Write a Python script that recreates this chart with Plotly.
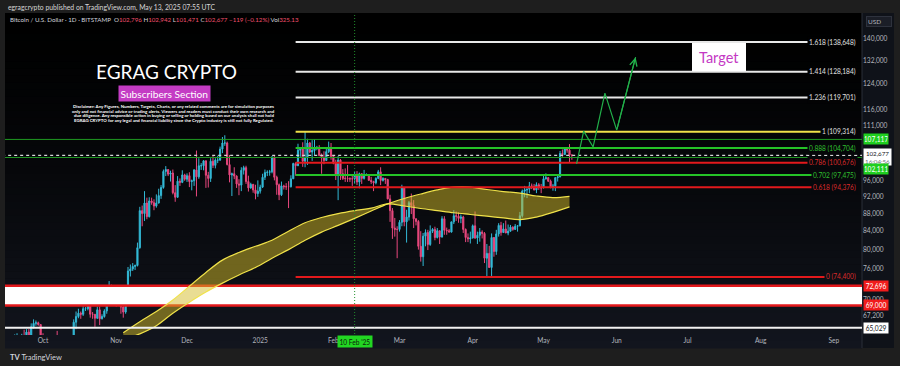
import math
import pandas as pd
import plotly.graph_objects as go

# ---------------- DATA ----------------
# BTC/USD daily candles (Bitstamp), values in thousands of USD, from 2024-09-15 to 2025-05-13
candle_first_day = "2024-09-15"
opens_k = [
    60.5, 59.2, 58.2, 60.3, 61.8, 62.9, 63.2, 63.4, 63.6, 63.3, 64.3, 63.2, 65.2, 65.8, 65.9, 65.6,
    63.3, 60.8, 60.6, 60.7, 62.1, 62.1, 62.8, 62.2, 62.1, 60.6, 60.3, 62.4, 63.2, 62.8, 66.0, 67.0,
    67.6, 67.4, 68.4, 68.4, 69.0, 67.4, 67.4, 66.7, 68.2, 66.6, 67.0, 68.0, 69.9, 72.7, 72.3,
    70.2, 69.5, 69.3, 68.7, 67.8, 69.4, 75.6, 76.0, 76.5, 76.7, 80.4, 88.7, 88.0, 90.5, 87.3,
    91.0, 90.6, 89.8, 90.5, 92.3, 94.3, 98.4, 98.9, 97.7, 98.0, 93.0, 91.9, 95.9, 95.6, 97.5,
    96.4, 97.3, 95.8, 96.0, 98.8, 97.0, 99.9, 99.9, 101.2, 97.4, 96.6, 101.1, 100.0, 101.4, 101.4,
    104.4, 106.1, 106.1, 100.2, 97.5, 97.8, 97.2, 95.2, 94.9, 98.7, 99.4, 95.8, 94.2, 95.1, 93.7, 92.8,
    93.4, 94.4, 96.9, 98.1, 98.2, 98.3, 102.2, 96.9, 95.0, 92.5, 94.7, 94.5, 94.5, 94.5, 96.5,
    100.5, 99.9, 104.1, 104.4, 101.1, 102.0, 106.1, 103.6, 104.0, 104.7, 104.7, 102.6, 102.0, 101.3, 103.7, 104.7,
    102.4, 100.6, 97.7, 101.4, 97.8, 96.6, 96.6, 96.5, 96.5, 96.5, 97.4, 95.7, 97.8, 96.6,
    97.5, 97.6, 96.1, 95.8, 95.5, 96.6, 98.3, 96.1, 96.6, 96.3, 91.5, 88.7, 84.7, 84.4,
    84.4, 86.0, 94.3, 86.1, 87.2, 90.6, 89.9, 86.8, 86.2, 80.7, 78.5, 82.9, 83.7, 81.1, 84.0, 84.4,
    82.6, 84.1, 82.7, 86.8, 84.2, 84.1, 83.8, 86.1, 87.5, 87.4, 86.9, 87.2, 84.4, 82.6, 82.3,
    82.5, 85.2, 82.5, 83.1, 83.8, 83.5, 78.2, 79.2, 76.3, 82.6, 79.6, 83.4, 85.3, 83.7, 84.5,
    83.6, 84.0, 84.9, 84.4, 85.1, 85.2, 87.5, 93.4, 93.7, 93.9, 94.7, 94.6, 93.7, 95.0, 94.3,
    94.2, 96.5, 96.8, 95.9, 94.3, 94.7, 96.8, 97.0, 103.2, 102.9, 104.6, 104.1, 102.796,
]
highs_k = [
    60.6, 59.2, 61.3, 61.8, 63.9, 64.1, 63.6, 64.0, 64.7, 64.8, 64.8, 65.8, 66.5, 66.3, 66.1, 65.6,
    64.1, 62.3, 61.5, 62.5, 62.4, 62.9, 64.5, 63.2, 62.5, 61.3, 63.4, 63.4, 63.3, 66.5, 67.9, 68.4,
    67.9, 68.9, 68.7, 69.4, 69.5, 67.8, 67.4, 68.8, 68.8, 67.4, 68.3, 70.3, 73.6, 72.9, 72.7,
    71.6, 69.9, 69.4, 69.0, 70.6, 76.4, 76.9, 77.2, 76.9, 81.5, 89.6, 89.9, 93.4, 91.8, 91.9,
    91.8, 91.4, 92.6, 94.0, 94.9, 98.9, 99.8, 98.9, 98.6, 98.9, 94.9, 97.2, 96.6, 98.7, 97.8,
    97.9, 98.2, 96.3, 99.0, 104.0, 101.9, 100.6, 101.4, 101.3, 98.3, 101.9, 102.5, 101.9, 102.6, 105.1,
    107.8, 108.3, 106.5, 102.8, 98.1, 99.5, 97.4, 96.4, 99.5, 99.9, 99.9, 97.3, 95.5, 95.2, 95.0, 96.1,
    95.0, 97.8, 98.9, 98.7, 98.8, 102.5, 102.7, 97.3, 95.3, 95.8, 95.0, 95.4, 95.9, 97.4, 100.7,
    100.8, 105.9, 104.9, 106.3, 109.3, 107.3, 106.4, 106.9, 107.1, 105.3, 105.5, 103.2, 103.8, 104.8, 106.5, 106.1,
    102.8, 101.5, 102.5, 101.7, 99.0, 99.2, 100.1, 96.9, 97.3, 98.3, 98.5, 98.1, 97.9, 98.8,
    97.9, 97.7, 97.0, 96.0, 96.9, 98.8, 99.5, 96.9, 96.7, 96.5, 92.5, 89.3, 87.0, 85.1,
    86.5, 95.0, 94.4, 88.9, 91.0, 92.8, 91.2, 86.9, 86.5, 84.0, 83.6, 84.4, 84.3, 85.3, 84.7, 85.0,
    84.7, 84.1, 87.4, 87.4, 84.8, 84.5, 86.1, 88.8, 88.5, 88.3, 87.8, 87.5, 84.6, 83.5, 83.9,
    85.5, 88.5, 83.9, 84.7, 84.2, 83.8, 81.2, 80.8, 83.5, 82.7, 84.3, 85.8, 86.1, 85.8, 86.4,
    85.5, 85.4, 85.1, 85.6, 85.3, 88.4, 93.8, 94.7, 94.0, 95.7, 95.3, 95.2, 95.6, 95.4, 95.2,
    97.4, 97.9, 96.9, 96.3, 95.2, 96.9, 97.7, 103.9, 104.3, 104.9, 104.9, 105.8, 102.942,
]
lows_k = [
    59.1, 57.5, 57.6, 59.2, 61.6, 62.4, 62.8, 62.4, 62.7, 62.7, 62.9, 62.7, 64.9, 65.4, 65.4, 62.9,
    60.2, 60.0, 59.8, 60.4, 61.7, 61.9, 62.2, 61.8, 60.3, 58.9, 60.0, 62.4, 62.0, 62.4, 64.8, 66.7,
    66.6, 67.1, 68.0, 68.1, 66.8, 66.6, 65.2, 66.6, 65.5, 66.5, 66.8, 67.5, 69.7, 71.4, 69.7,
    68.8, 69.0, 67.5, 66.8, 67.5, 69.3, 74.5, 75.6, 75.8, 76.5, 80.2, 85.1, 86.3, 86.7, 87.1,
    90.1, 88.8, 89.4, 90.4, 91.5, 94.0, 97.2, 97.2, 95.8, 92.6, 90.8, 91.8, 94.7, 95.4, 96.0,
    95.7, 94.4, 93.6, 94.7, 92.1, 96.5, 98.8, 98.7, 94.2, 94.3, 95.7, 99.3, 99.2, 100.6, 101.2,
    103.3, 105.3, 100.0, 95.6, 92.2, 96.4, 94.2, 92.4, 93.4, 97.6, 95.2, 93.3, 94.0, 93.0, 91.4, 92.0,
    92.8, 94.2, 96.2, 97.2, 97.3, 97.9, 96.1, 92.5, 91.2, 92.2, 93.8, 93.7, 89.3, 94.3, 96.5,
    97.3, 99.9, 102.3, 99.6, 99.5, 100.1, 103.3, 101.2, 102.8, 104.1, 102.5, 97.8, 100.3, 101.3, 103.3, 101.5,
    100.3, 96.2, 91.2, 96.2, 96.2, 95.7, 95.7, 95.7, 94.7, 95.3, 94.9, 94.1, 95.2, 96.3,
    97.2, 96.1, 95.2, 93.4, 95.1, 96.4, 94.9, 95.8, 95.2, 91.4, 86.1, 82.3, 82.8, 78.2,
    83.9, 85.1, 85.1, 81.5, 86.4, 87.9, 84.7, 85.3, 80.0, 77.5, 76.6, 80.7, 79.9, 80.8, 83.6, 82.0,
    82.4, 81.2, 82.6, 83.2, 83.2, 83.7, 83.7, 85.6, 86.3, 85.9, 85.8, 83.6, 81.6, 81.6, 81.3,
    82.4, 82.3, 81.2, 81.7, 82.4, 77.2, 74.4, 76.2, 74.6, 78.5, 78.9, 82.8, 83.0, 83.7, 83.6,
    83.1, 83.9, 84.1, 84.3, 83.9, 85.1, 87.1, 91.9, 91.7, 92.9, 93.9, 93.6, 92.9, 93.7, 92.9,
    94.1, 96.3, 95.7, 94.1, 93.5, 93.4, 95.8, 96.9, 102.3, 102.8, 103.4, 100.8, 101.471,
]
closes_k = [
    59.2, 58.2, 60.3, 61.8, 62.9, 63.2, 63.4, 63.6, 63.3, 64.3, 63.2, 65.2, 65.8, 65.9, 65.6, 63.3,
    60.8, 60.6, 60.7, 62.1, 62.1, 62.8, 62.2, 62.1, 60.6, 60.3, 62.4, 63.2, 62.8, 66.0, 67.0, 67.6,
    67.4, 68.4, 68.4, 69.0, 67.4, 67.4, 66.7, 68.2, 66.6, 67.0, 68.0, 69.9, 72.7, 72.3, 70.2,
    69.5, 69.3, 68.7, 67.8, 69.4, 75.6, 76.0, 76.5, 76.7, 80.4, 88.7, 88.0, 90.5, 87.3, 91.0,
    90.6, 89.8, 90.5, 92.3, 94.3, 98.4, 98.9, 97.7, 98.0, 93.0, 91.9, 95.9, 95.6, 97.5, 96.4,
    97.3, 95.8, 96.0, 98.8, 97.0, 99.9, 99.9, 101.2, 97.4, 96.6, 101.1, 100.0, 101.4, 101.4, 104.4,
    106.1, 106.1, 100.2, 97.5, 97.8, 97.2, 95.2, 94.9, 98.7, 99.4, 95.8, 94.2, 95.1, 93.7, 92.8, 93.4,
    94.4, 96.9, 98.1, 98.2, 98.3, 102.2, 96.9, 95.0, 92.5, 94.7, 94.5, 94.5, 94.5, 96.5, 100.5,
    99.9, 104.1, 104.4, 101.1, 102.0, 106.1, 103.6, 104.0, 104.7, 104.7, 102.6, 102.0, 101.3, 103.7, 104.7, 102.4,
    100.6, 97.7, 101.4, 97.8, 96.6, 96.6, 96.5, 96.5, 96.5, 97.4, 95.7, 97.8, 96.6, 97.5,
    97.6, 96.1, 95.8, 95.5, 96.6, 98.3, 96.1, 96.6, 96.3, 91.5, 88.7, 84.7, 84.4, 84.4,
    86.0, 94.3, 86.1, 87.2, 90.6, 89.9, 86.8, 86.2, 80.7, 78.5, 82.9, 83.7, 81.1, 84.0, 84.4, 82.6,
    84.1, 82.7, 86.8, 84.2, 84.1, 83.8, 86.1, 87.5, 87.4, 86.9, 87.2, 84.4, 82.6, 82.3, 82.5,
    85.2, 82.5, 83.1, 83.8, 83.5, 78.2, 79.2, 76.3, 82.6, 79.6, 83.4, 85.3, 83.7, 84.5, 83.6,
    84.0, 84.9, 84.4, 85.1, 85.2, 87.5, 93.4, 93.7, 93.9, 94.7, 94.6, 93.7, 95.0, 94.3, 94.2,
    96.5, 96.8, 95.9, 94.3, 94.7, 96.8, 97.0, 103.2, 102.9, 104.6, 104.1, 102.796, 102.677,
]
last_volume = "325.13"
countdown = "16:04:56"

# Fibonacci extension levels drawn from mid-January
fib_ratios = ["1.618", "1.414", "1.236", "1", "0.888", "0.786", "0.702", "0.618", "0"]
fib_prices = [138648, 128184, 119701, 109314, 104704, 100676, 97475, 94376, 74400]
fib_start = "2025-01-16"

# Full-width horizontal levels
green_levels = [107117, 102111]
support_zone = [69000, 72696]
base_level = 65029
marked_day = "2025-02-10"
marked_day_label = "10 Feb '25"

# Bull-market support band (two moving averages), weekly readings, thousands
band_weeks = ["2024-11-04", "2024-11-11", "2024-11-18", "2024-11-25", "2024-12-02", "2024-12-09",
              "2024-12-16", "2024-12-23", "2024-12-30", "2025-01-06", "2025-01-13", "2025-01-20",
              "2025-01-27", "2025-02-03", "2025-02-10", "2025-02-17", "2025-02-24", "2025-03-03",
              "2025-03-10", "2025-03-17", "2025-03-24", "2025-03-31", "2025-04-07", "2025-04-14",
              "2025-04-21", "2025-04-28", "2025-05-05", "2025-05-12"]
band_a_k = [64.2, 66.1, 67.9, 70.0, 72.6, 75.3, 77.8, 79.4, 80.7, 82.0, 84.0, 85.9, 87.1, 88.0,
            88.7, 89.3, 90.3, 89.8, 89.2, 88.7, 88.2, 87.8, 87.4, 87.0, 86.6, 87.2, 88.3, 89.6]
band_b_k = [63.0, 64.0, 65.4, 67.6, 69.6, 71.5, 73.2, 74.8, 76.3, 78.2, 80.0, 82.0, 83.8, 85.3,
            86.9, 88.6, 90.3, 91.6, 92.7, 93.7, 94.4, 94.4, 93.8, 93.3, 92.9, 92.2, 91.8, 92.1]

# Projected path drawn by the author
proj_dates = ["2025-05-15", "2025-05-18", "2025-05-22", "2025-05-27", "2025-06-01", "2025-06-09"]
proj_prices = [100400, 109500, 105000, 121100, 109800, 133200]

# Axes
month_ticks = ["2024-10-01", "2024-11-01", "2024-12-01", "2025-01-01", "2025-02-01", "2025-03-01",
               "2025-04-01", "2025-05-01", "2025-06-01", "2025-07-01", "2025-08-01", "2025-09-01"]
month_labels = ["Oct", "Nov", "Dec", "2025", "Feb", "Mar", "Apr", "May", "Jun", "Jul", "Aug", "Sep"]
price_ticks = [140000, 132000, 124000, 116000, 111000, 96000, 92000, 88000, 84000, 80000, 76000,
               70000, 67200]

# ---------------- LAYOUT HELPERS (styling only) ----------------
W, H = 900, 366
ML, MR, MT, MB = 5, 38, 13, 31
PW, PH = W - ML - MR, H - MT - MB
Y_LO, Y_HI = 63803, 149720
LOG_LO, LOG_HI = math.log10(Y_LO), math.log10(Y_HI)
X_RANGE = ["2024-09-14 21:43", "2025-09-12 21:22"]
FAR_L, FAR_R = "2024-09-01", "2025-09-30"


def px(x):
    return (x - ML) / PW


def py(y):
    return (H - MB - y) / PH


def price_pix(p):
    return MT + PH * (LOG_HI - math.log10(p)) / (LOG_HI - LOG_LO)


def grad(ypix):
    t = min(max((ypix - MT) / (348 - MT), 0.0), 1.0) ** 1.4
    return f"rgb({round(18 * t)},{round(21 * t)},{round(30 * t)})"


UP, DOWN = "#33b9d6", "#e8487e"
RED, GREEN, WHITE, YELLOW = "#e3191c", "#25c427", "#e8e8e8", "#f0e24a"
AXIS_TXT = "#b2b5be"
FONT = "Lato"

k = 1000.0
dates = pd.date_range(candle_first_day, periods=len(closes_k), freq="D")

fig = go.Figure()

fig.add_trace(go.Candlestick(
    x=dates, open=[v * k for v in opens_k], high=[v * k for v in highs_k],
    low=[v * k for v in lows_k], close=[v * k for v in closes_k],
    increasing=dict(line=dict(color=UP, width=1), fillcolor=UP),
    decreasing=dict(line=dict(color=DOWN, width=1), fillcolor=DOWN),
    whiskerwidth=0, hoverinfo="skip", showlegend=False))

# support zone (white box with red borders)
fig.add_trace(go.Scatter(
    x=[FAR_L, FAR_R, FAR_R, FAR_L, FAR_L],
    y=[support_zone[0], support_zone[0], support_zone[1], support_zone[1], support_zone[0]],
    mode="lines", fill="toself", fillcolor="#ffffff", line=dict(color=RED, width=2.5),
    hoverinfo="skip", showlegend=False))

# band
fig.add_trace(go.Scatter(x=band_weeks, y=[v * k for v in band_a_k], mode="lines",
                         line=dict(color=YELLOW, width=1.2, shape="spline"),
                         hoverinfo="skip", showlegend=False))
fig.add_trace(go.Scatter(x=band_weeks, y=[v * k for v in band_b_k], mode="lines",
                         line=dict(color=YELLOW, width=1.2, shape="spline"),
                         fill="tonexty", fillcolor="rgba(212,188,40,0.5)",
                         hoverinfo="skip", showlegend=False))


def hline(price, color, width, dash="solid", x0=FAR_L, x1=FAR_R):
    fig.add_trace(go.Scatter(x=[x0, x1], y=[price, price], mode="lines",
                             line=dict(color=color, width=width, dash=dash),
                             hoverinfo="skip", showlegend=False))


hline(base_level, "#f2f2f2", 2)
for lv in green_levels:
    hline(lv, "#1f9a22", 1)
hline(closes_k[-1] * k, "#d8d8d8", 1.2, "dot")

fib_line_colors = [WHITE, WHITE, WHITE, YELLOW, GREEN, RED, GREEN, RED, RED]
fib_text_colors = ["#e0e0e0", "#e0e0e0", "#e0e0e0", "#e0e0e0", "#2fbf2f", "#d92a2a", "#2fbf2f",
                   "#d92a2a", "#d92a2a"]
for p, c in zip(fib_prices, fib_line_colors):
    hline(p, c, 2, x0=fib_start, x1="2025-09-10")

# vertical marker
fig.add_trace(go.Scatter(x=[marked_day, marked_day], y=[50000, 170000], mode="lines",
                         line=dict(color="#22902c", width=1, dash="1px,2px"),
                         hoverinfo="skip", showlegend=False))

# projection
fig.add_trace(go.Scatter(x=proj_dates, y=proj_prices, mode="lines",
                         line=dict(color="#22b04a", width=1.2),
                         hoverinfo="skip", showlegend=False))

# ---------------- SHAPES ----------------
shapes = []
N = 48
for i in range(N):
    y_top = MT + (348 - MT) * i / N
    y_bot = MT + (348 - MT) * (i + 1) / N + 0.6
    shapes.append(dict(type="rect", xref="paper", yref="paper", x0=0, x1=1,
                       y0=py(y_bot), y1=py(y_top), fillcolor=grad((y_top + y_bot) / 2),
                       line=dict(width=0), layer="below"))
shapes.append(dict(type="rect", xref="paper", yref="paper", x0=px(862), x1=px(894),
                   y0=py(348), y1=py(MT), fillcolor="#0f1219", line=dict(width=0), layer="below"))
shapes.append(dict(type="line", xref="paper", yref="paper", x0=px(862), x1=px(862),
                   y0=py(348), y1=py(MT), line=dict(color="#2a2e39", width=1), layer="below"))
# Target box
shapes.append(dict(type="rect", xref="paper", yref="paper", x0=px(692), x1=px(746),
                   y0=py(71), y1=py(43), fillcolor="#ffffff", line=dict(width=0), layer="above"))

# ---------------- ANNOTATIONS ----------------
ann = []


def add_text(text, x, y, size, color, xanchor="center", yanchor="middle", **kw):
    ann.append(dict(text=text, xref="paper", yref="paper", x=px(x), y=py(y), showarrow=False,
                    xanchor=xanchor, yanchor=yanchor,
                    font=dict(family=kw.pop("family", FONT), size=size, color=color), **kw))


add_text("egragcrypto published on TradingView.com, May 13, 2025 07:55 UTC", 6, 7, 6.8,
         "#d6d6d6", xanchor="left")

VC = "#f0506e"
chg = closes_k[-1] - closes_k[-2]
ticker = ("Bitcoin / U.S. Dollar · 1D · BITSTAMP&nbsp;&nbsp;"
          f"O<span style='color:{VC}'>{opens_k[-1] * k:,.0f}</span> "
          f"H<span style='color:{VC}'>{highs_k[-1] * k:,.0f}</span> "
          f"L<span style='color:{VC}'>{lows_k[-1] * k:,.0f}</span> "
          f"C<span style='color:{VC}'>{closes_k[-1] * k:,.0f}</span> "
          f"<span style='color:{VC}'>{chg * k:+,.0f} ({chg / closes_k[-2] * 100:+.2f}%)</span> "
          f"Vol<span style='color:{VC}'>{last_volume}</span>").replace("-", "−")
add_text(ticker, 8, 20, 6.2, "#d1d4dc", xanchor="left")

add_text("EGRAG CRYPTO", 166.5, 72, 19, "#ffffff")
add_text("Subscribers Section", 164, 93, 10.2, "#ffffff", bgcolor="#c43cc4", borderpad=1.5)
disclaimer = [
    "Disclaimer: Any Figures, Numbers, Targets, Charts, or any related comments are for simulation purposes",
    "only and not financial advice or trading alerts. Viewers and readers must conduct their own research and",
    "due diligence. Any responsible action in buying or selling or holding based on our analysis shall not hold",
    "EGRAG CRYPTO for any legal and financial liability since the Crypto industry is still not fully Regulated.",
]
for i, line in enumerate(disclaimer):
    add_text(f"<b>{line}</b>", 173.5, 106.6 + 4.5 * i, 4.4, "#ffffff")

add_text("Target", 719, 57, 14.5, "#c438c4")

# fib labels
for r, p, c in zip(fib_ratios, fib_prices, fib_text_colors):
    ann.append(dict(text=f"{r} ({p:,})", xref="paper", yref="y", x=px(858), y=math.log10(p),
                    xanchor="right", yanchor="middle", showarrow=False, borderpad=1,
                    bgcolor=grad(price_pix(p)),
                    font=dict(family=FONT, size=6.6, color=c)))


def axis_label(text, price, bg, fg, yshift=0, size=6.6, width=23):
    ann.append(dict(text=text, xref="paper", yref="y", x=px(863), y=math.log10(price),
                    xanchor="left", yanchor="middle", showarrow=False, borderpad=0.6,
                    bgcolor=bg, yshift=yshift, width=width,
                    font=dict(family=FONT, size=size, color=fg)))


axis_label(f"{green_levels[0]:,}", green_levels[0], "#1fcf1f", "#ffffff")
axis_label(f"{closes_k[-1] * k:,.0f}<br><span style='color:#6a6d78'>{countdown}</span>",
           closes_k[-1] * k, "#ffffff", "#131722", yshift=-2, size=6.2, width=26)
axis_label(f"{green_levels[1]:,}", green_levels[1], "#1fcf1f", "#ffffff", yshift=-12)
axis_label(f"{support_zone[1]:,}", support_zone[1], "#f01c1c", "#ffffff")
axis_label(f"{support_zone[0]:,}", support_zone[0], "#f01c1c", "#ffffff")
axis_label(f"{base_level:,}", base_level, "#ffffff", "#131722")

add_text("USD", 866, 21, 6.4, AXIS_TXT, xanchor="left", bgcolor="#1b1e27",
         bordercolor="#2e323d", borderwidth=1, width=22, align="left")

ann.append(dict(text=marked_day_label, xref="x", yref="paper", x=marked_day, y=py(341.5),
                xanchor="center", yanchor="middle", showarrow=False, bgcolor="#22d622",
                borderpad=1.5, font=dict(family=FONT, size=6.6, color="#0b1a0b")))

add_text("<b>TV</b> TradingView", 8, 357, 7.5, "#d1d4dc", xanchor="left")

# arrow head at end of projection
ann.append(dict(x=proj_dates[-1], y=math.log10(proj_prices[-1]), xref="x", yref="y",
                ax=proj_dates[-2], ay=math.log10(proj_prices[-2]), axref="x", ayref="y",
                showarrow=True, arrowhead=5, arrowsize=1.2, arrowwidth=1.2,
                arrowcolor="#22b04a", text="", standoff=0))

fig.update_layout(
    width=W, height=H, margin=dict(l=ML, r=MR, t=MT, b=MB, pad=0),
    paper_bgcolor="#1e1e1e", plot_bgcolor="#000000", showlegend=False,
    shapes=shapes, annotations=ann, hovermode=False,
    xaxis=dict(type="date", range=X_RANGE, tickvals=month_ticks, ticktext=month_labels,
               showgrid=False, zeroline=False, showline=False, ticks="",
               tickfont=dict(family=FONT, size=6.6, color=AXIS_TXT),
               rangeslider=dict(visible=False), fixedrange=True),
    yaxis=dict(type="log", range=[LOG_LO, LOG_HI], side="right", tickvals=price_ticks,
               ticktext=[f"{v:,}" for v in price_ticks], showgrid=False, zeroline=False,
               showline=False, ticks="", tickfont=dict(family=FONT, size=6.6, color=AXIS_TXT),
               fixedrange=True),
)

fig.write_html(
    "out.html",
    config={"displayModeBar": False, "staticPlot": True},
    post_script="document.body.style.margin='0px';document.body.style.padding='0px';"
                "document.body.style.overflow='hidden';"
                "document.body.style.background='#1e1e1e';",
)
